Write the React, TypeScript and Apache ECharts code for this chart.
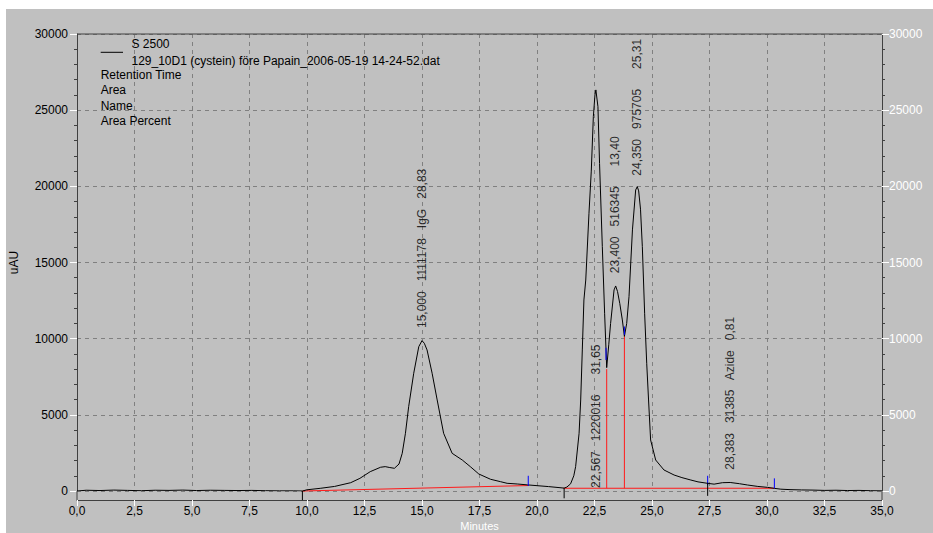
import React, { useEffect, useRef } from "react";
import * as echarts from "echarts";

// ---- data ----
const curveTimes = [
  0.0, 0.4, 1.0, 1.6, 2.2, 2.8, 3.4, 4.0, 4.6, 5.2, 5.8, 6.4, 7.0, 7.6, 8.2, 8.8, 9.4, 9.8,
  10.0, 10.6, 11.2, 11.9, 12.3, 12.75, 13.2, 13.4, 13.6, 13.8, 14.0, 14.14, 14.28, 14.42, 14.64, 14.86,
  15.0, 15.1, 15.22, 15.44, 15.66, 15.94, 16.31, 16.75, 17.1, 17.47, 17.98, 18.42, 18.7, 19.14, 19.6,
  20.0, 20.5, 21.0, 21.18, 21.3, 21.46, 21.6, 21.68, 21.83, 21.9, 21.97, 22.04, 22.12, 22.26, 22.36,
  22.45, 22.52, 22.56, 22.65, 22.72, 22.84, 22.94, 23.03, 23.12, 23.2, 23.35, 23.42, 23.5, 23.6, 23.71,
  23.8, 23.9, 24.0, 24.15, 24.29, 24.36, 24.42, 24.5, 24.58, 24.68, 24.77, 24.85, 24.94, 25.16, 25.52,
  25.96, 26.3, 26.69, 27.0, 27.41, 27.7, 28.06, 28.4, 28.8, 29.15, 29.6, 30.02, 30.31, 30.6, 31.0,
  31.5, 32.0, 32.5, 33.0, 33.5, 34.0, 34.5, 35.0,
];
const curveValues = [
  0, 50, 30, 60, 40, 20, 50, 40, 60, 30, 50, 40, 30, 40, 20, 10, 10, 0,
  80, 180, 300, 545, 830, 1270, 1560, 1600, 1540, 1490, 1770, 2475, 3790, 5535, 7730, 9475,
  9870, 9700, 9260, 7730, 5975, 3790, 2475, 2035, 1600, 1116, 770, 610, 505, 460, 400,
  350, 290, 217, 190, 260, 470, 1000, 1600, 3790, 5975, 9260, 12540, 13850, 18230, 21000,
  24580, 26000, 26330, 25230, 21500, 16040, 11670, 8100, 9600, 11000, 13200, 13460, 13100, 12300, 11230,
  10150, 11000, 12760, 17140, 19760, 19980, 19700, 18500, 16040, 11670, 8385, 5975, 3350, 2035, 1380,
  1050, 880, 720, 600, 505, 450, 545, 560, 480, 394, 300, 240, 177, 120, 90,
  70, 60, 40, 50, 30, 40, 20, 10,
];

// integration baselines (red): [t0, v0, t1, v1]
const baselineSegments = [
  [9.8, 0, 19.65, 360],
  [21.15, 180, 30.3, 180],
];
// drop lines (red): [t, from, to]
const dropLines = [
  [23.03, 180, 8000],
  [23.8, 180, 10150],
];
// peak start/end marks
const blueMarks = [
  [19.62, 330, 1000],
  [23.0, 8600, 9400],
  [23.8, 10250, 10800],
  [27.42, 390, 1000],
  [30.32, 177, 830],
];
const blackMarks = [
  [9.8, 0, -600],
  [21.18, 190, -480],
  [27.42, 545, -320],
];

// peak annotations
const peakTimes = [15.0, 22.567, 23.4, 24.35, 28.383];
const peakLabelBase = [10700, 200, 14300, 20700, 1400];
const peakRT = ["15,000", "22,567", "23,400", "24,350", "28,383"];
const peakArea = ["1111178", "1220016", "516345", "975705", "31385"];
const peakName = ["IgG", "", "", "", "Azide"];
const peakPct = ["28,83", "31,65", "13,40", "25,31", "0,81"];

const legendLines = ["S 2500", "129_10D1 (cystein) före Papain_2006-05-19 14-24-52.dat"];
const legendFields = ["Retention Time", "Area", "Name", "Area Percent"];

const FONT = '"Liberation Sans", Arial, sans-serif';

export default function App() {
  const ref = useRef<HTMLDivElement>(null);
  useEffect(() => {
    if (!ref.current) return;
    const chart = echarts.init(ref.current, null, { renderer: "svg" });
    const SEP = "   ";
    const labelTexts = peakTimes.map(
      (_, i) => [peakRT[i], peakArea[i], peakName[i], peakPct[i]].join(SEP)
    );
    const seg = (pts: number[][], color: string, z = 4) => ({
      type: "line",
      data: pts,
      showSymbol: false,
      symbol: "none",
      clip: false,
      silent: true,
      z,
      lineStyle: { color, width: 1 },
    });
    const series: any[] = [
      ...baselineSegments.map((s) => seg([[s[0], s[1]], [s[2], s[3]]], "#ff1a1a", 3)),
      ...dropLines.map((d) => seg([[d[0], d[1]], [d[0], d[2]]], "#ff1a1a", 3)),
      {
        type: "line",
        data: curveTimes.map((t, i) => [t, curveValues[i]]),
        showSymbol: false,
        symbol: "none",
        z: 5,
        lineStyle: { color: "#000", width: 1 },
      },
      ...blueMarks.map((d) => seg([[d[0], d[1]], [d[0], d[2]]], "#0000ff", 6)),
      ...blackMarks.map((d) => seg([[d[0], d[1]], [d[0], d[2]]], "#000", 6)),
      {
        type: "scatter",
        data: peakTimes.map((t, i) => [t, peakLabelBase[i]]),
        symbolSize: 0,
        clip: false,
        silent: true,
        z: 7,
        label: {
          show: true,
          position: "inside",
          rotate: 90,
          align: "left",
          verticalAlign: "middle",
          color: "#000",
          fontSize: 12,
          fontFamily: FONT,
          formatter: (p: any) => labelTexts[p.dataIndex],
        },
      },
    ];

    const yBase = {
      type: "value",
      min: 0,
      max: 30000,
      interval: 5000,
      axisLine: { show: true, lineStyle: { color: "#404040", width: 1 } },
      axisTick: { show: true, length: 7, lineStyle: { color: "#ffffff" } },
      minorTick: { show: true, splitNumber: 5, length: 3, lineStyle: { color: "#404040" } },
    };
    const plain = (v: number) => String(v);

    const option: any = {
      animation: false,
      backgroundColor: "#c0c0c0",
      textStyle: { fontFamily: FONT, fontSize: 12 },
      grid: { left: 71, right: 51, top: 25, bottom: 42, containLabel: false, outerBoundsMode: "none" },
      xAxis: {
        type: "value",
        min: 0,
        max: 35,
        interval: 2.5,
        offset: 9,
        axisLine: { show: true, onZero: false, lineStyle: { color: "#404040", width: 1 } },
        axisTick: { show: true, length: 6, lineStyle: { color: "#ffffff" } },
        axisLabel: {
          color: "#000",
          fontSize: 12,
          fontFamily: FONT,
          margin: 5,
          lineHeight: 12,
          formatter: (v: number) => v.toFixed(1).replace(".", ","),
        },
        splitLine: { show: true, lineStyle: { color: "#808080", type: [4, 4], width: 1 } },
        name: "Minutes",
        nameLocation: "middle",
        nameGap: 20,
        nameMoveOverlap: false,
        nameTextStyle: { color: "#ffffff", fontSize: 11, lineHeight: 11, fontFamily: FONT },
      },
      yAxis: [
        {
          ...yBase,
          position: "left",
          axisLabel: { color: "#000", fontSize: 12, fontFamily: FONT, margin: 9, formatter: plain },
          splitLine: { show: true, lineStyle: { color: "#808080", type: [4, 4], width: 1 } },
          name: "uAU",
          nameLocation: "middle",
          nameGap: 57,
          nameMoveOverlap: false,
          nameTextStyle: { color: "#000", fontSize: 12, fontFamily: FONT },
        },
        {
          ...yBase,
          position: "right",
          axisLabel: { color: "#ffffff", fontSize: 12, fontFamily: FONT, margin: 7, formatter: plain },
          splitLine: { show: false },
        },
      ],
      graphic: [
        { type: "line", z: 100, shape: { x1: 71, y1: 25, x2: 876, y2: 25 }, style: { stroke: "#404040", lineWidth: 1 } },
        { type: "line", z: 100, shape: { x1: 71, y1: 482, x2: 71, y2: 491 }, style: { stroke: "#404040", lineWidth: 1 } },
        { type: "line", z: 100, shape: { x1: 876, y1: 482, x2: 876, y2: 491 }, style: { stroke: "#404040", lineWidth: 1 } },
        { type: "line", z: 100, shape: { x1: 94.7, y1: 43.3, x2: 117, y2: 43.3 }, style: { stroke: "#000", lineWidth: 1 } },
        ...legendLines.map((t, i) => ({
          type: "text",
          z: 100,
          x: 125.5,
          y: 35 + i * 16.5,
          style: { text: t, fill: "#000", font: `12px ${FONT}`, verticalAlign: "middle" },
        })),
        ...legendFields.map((t, i) => ({
          type: "text",
          z: 100,
          x: 94.7,
          y: 66 + i * 15.4,
          style: { text: t, fill: "#000", font: `12px ${FONT}`, verticalAlign: "middle" },
        })),
      ],
      series,
    };
    chart.setOption(option);
    return () => chart.dispose();
  }, []);

  return (
    <div
      ref={ref}
      style={{ position: "absolute", left: 6, top: 9, width: 927, height: 524 }}
    />
  );
}
